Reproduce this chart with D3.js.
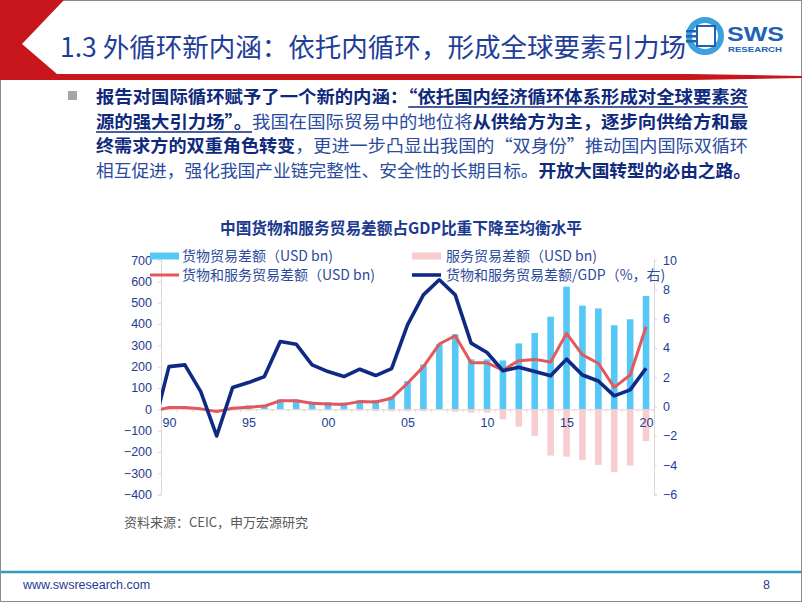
<!DOCTYPE html>
<html>
<head>
<meta charset="utf-8">
<script src="https://cdn.jsdelivr.net/npm/d3@7"></script>
<style>
html,body{margin:0;padding:0;background:#fff;}
svg{display:block;}
text{font-family:"Liberation Sans","Noto Sans CJK SC",Arial,sans-serif;}
.cjk{font-family:"Noto Sans CJK SC","Liberation Sans",sans-serif;}
</style>
</head>
<body>
<svg id="chart" width="802" height="602"></svg>
<script>
// ---------------- data ----------------
const barYears = d3.range(1990, 2021);
const lineYears = d3.range(1989, 2021); // 1989 exists in source, clipped by plot edge
const goodsBalance = [9, 9, 5, -11, 7, 18, 20, 46, 46, 36, 34, 32, 44, 44, 59, 132, 210, 305, 352, 234, 234, 229, 309, 358, 434, 575, 486, 473, 394, 422, 531];
const servicesBalance = [1.5, 2.9, -0.2, -1.1, 0.3, -6.1, -2.0, -3.4, -2.8, -5.3, -5.6, -5.9, -6.8, -8.6, -9.7, -9.4, -8.8, -3.1, -11.5, -16, -16, -47, -81, -125, -217, -222, -238, -261, -295, -264, -149];
const totalBalance = [-7, 8, 8, 2, -11, 5, 10, 15, 40, 40, 28, 25, 23, 36, 34, 52, 122, 200, 306, 345, 218, 218, 184, 228, 234, 222, 356, 255, 216, 103, 161, 387];
const balanceToGDP = [-1.55, 2.73, 2.85, 1.02, -2.0, 1.30, 1.64, 2.05, 4.44, 4.26, 2.85, 2.39, 2.05, 2.55, 2.12, 2.59, 5.58, 7.62, 8.65, 7.62, 4.33, 3.69, 2.45, 2.69, 2.39, 2.10, 3.24, 2.16, 1.75, 0.73, 1.14, 2.62];
const leftTicks = [-400, -300, -200, -100, 0, 100, 200, 300, 400, 500, 600, 700];
const rightTicks = [-6, -4, -2, 0, 2, 4, 6, 8, 10];
const xTickYears = [1990, 1995, 2000, 2005, 2010, 2015, 2020];
const xTickLabels = ["90", "95", "00", "05", "10", "15", "20"];
const seriesNames = ["货物贸易差额（USD bn)", "服务贸易差额（USD bn)", "货物和服务贸易差额（USD bn)", "货物和服务贸易差额/GDP（%，右)"];
const chartTitle = "中国货物和服务贸易差额占GDP比重下降至均衡水平";
const slideTitle = "1.3 外循环新内涵：依托内循环，形成全球要素引力场";
const sourceText = "资料来源：CEIC，申万宏源研究";
const bodyLines = [
  [["报告对国际循环赋予了一个新的内涵：", "b"], ["“依托国内经济循环体系形成对全球要素资", "bu"]],
  [["源的强大引力场”。", "bu"], ["我国在国际贸易中的地位将", "r"], ["从供给方为主，逐步向供给方和最", "b"]],
  [["终需求方的双重角色转变", "b"], ["，更进一步凸显出我国的“双身份”推动国内国际双循环", "r"]],
  [["相互促进，强化我国产业链完整性、安全性的长期目标。", "r"], ["开放大国转型的必由之路。", "b"]]
];

// ---------------- setup ----------------
const svg = d3.select("#chart");
const navy = "#0E2A84", red = "#E4585B", cyan = "#56C8F5", pink = "#F8CDD0";
const textNavy = "#1F3C93";

// slide frame
svg.append("rect").attr("x", 0.5).attr("y", 0.5).attr("width", 801).attr("height", 601)
  .attr("fill", "none").attr("stroke", "#8c8c8c").attr("stroke-width", 1);

// header red shapes
svg.append("path").attr("d", "M0,0 L64,0 L22,44 L64,80 L0,80 Z").attr("fill", "#C8161D");
svg.append("path").attr("d", "M0,74 L690,74 L690,80 L0,80 Z").attr("fill", "#C8161D");
svg.append("path").attr("d", "M690,74 L802,76 L802,78 L690,80 Z").attr("fill", "#C8161D");

svg.append("text").attr("class", "cjk").attr("x", 60).attr("y", 57)
  .attr("font-size", 26.5).attr("fill", "#1E3E9A").attr("textLength", 626).attr("lengthAdjust", "spacingAndGlyphs")
  .text(slideTitle);

// logo
const logo = svg.append("g");
logo.append("circle").attr("cx", 705).attr("cy", 36).attr("r", 16).attr("fill", "none").attr("stroke", "#3DA1DE").attr("stroke-width", 6);
logo.append("rect").attr("x", 697).attr("y", 26).attr("width", 18).attr("height", 20).attr("fill", "#fff").attr("stroke", "#1F63B5").attr("stroke-width", 2);
[30, 35, 40].forEach(yy => logo.append("rect").attr("x", 686).attr("y", yy).attr("width", 12).attr("height", 2.5).attr("fill", "#1F63B5"));
logo.append("text").attr("x", 727).attr("y", 41).attr("font-size", 21).attr("font-weight", "bold").attr("fill", "#1D63B6").attr("textLength", 57).attr("lengthAdjust", "spacingAndGlyphs").text("SWS");
logo.append("text").attr("x", 728).attr("y", 52).attr("font-size", 7).attr("font-weight", "bold").attr("fill", "#1D63B6").attr("textLength", 54).attr("lengthAdjust", "spacingAndGlyphs").text("RESEARCH");

// bullet paragraph
svg.append("rect").attr("x", 68).attr("y", 91).attr("width", 9).attr("height", 9).attr("fill", "#A6A6A6");
const lineY = [103, 128, 152, 177];
const lineEnd = [748, 748, 748, 751];
bodyLines.forEach((segs, i) => {
  const t = svg.append("text").attr("class", "cjk").attr("x", 96).attr("y", lineY[i])
    .attr("font-size", 17.4).attr("textLength", lineEnd[i] - 96).attr("lengthAdjust", "spacingAndGlyphs");
  segs.forEach(([s, st]) => {
    t.append("tspan").attr("font-weight", st === "r" ? "normal" : "bold")
      .attr("fill", st === "r" ? "#2B4C9E" : "#0F2A7C")
      .attr("data-u", st === "bu" ? "1" : null).text(s);
  });
  t.selectAll("tspan[data-u='1']").each(function() {
    const n = this.getNumberOfChars();
    const x0 = this.getStartPositionOfChar(0).x;
    const x1 = this.getEndPositionOfChar(n - 1).x;
    svg.append("line").attr("x1", x0).attr("x2", x1).attr("y1", lineY[i] + 4).attr("y2", lineY[i] + 4)
      .attr("stroke", "#0F2A7C").attr("stroke-width", 1.3);
  });
});

// ---------------- chart ----------------
const plot = {left: 161, right: 654, top: 260, bottom: 494.6};
const x = d3.scaleLinear().domain([1989.5, 2020.5]).range([plot.left, plot.right]);
const yL = d3.scaleLinear().domain([-400, 700]).range([plot.bottom, plot.top]);
const yR = d3.scaleLinear().domain([-6, 10]).range([plot.bottom, plot.top]);
const bw = 6.6;

svg.append("text").attr("class", "cjk").attr("x", 401).attr("y", 234).attr("text-anchor", "middle")
  .attr("font-size", 16).attr("font-weight", "bold").attr("fill", "#1B3A8F")
  .attr("textLength", 362).attr("lengthAdjust", "spacingAndGlyphs").text(chartTitle);

// axes
const axL = svg.append("g").attr("transform", `translate(${plot.left},0)`)
  .call(d3.axisLeft(yL).tickValues(leftTicks).tickSize(3).tickPadding(6));
const axR = svg.append("g").attr("transform", `translate(${plot.right},0)`)
  .call(d3.axisRight(yR).tickValues(rightTicks).tickSize(3).tickPadding(6));
[axL, axR].forEach(a => {
  a.select(".domain").attr("stroke", "#D9D9D9");
  a.selectAll(".tick line").attr("stroke", "#D9D9D9");
  a.selectAll(".tick text").attr("fill", textNavy).attr("font-size", 12.5)
    .attr("font-family", "Liberation Sans, Arial, sans-serif");
});

// bars
svg.append("g").selectAll("rect.g").data(barYears).join("rect")
  .attr("x", d => x(d) - bw / 2).attr("width", bw)
  .attr("y", (d, i) => yL(Math.max(0, goodsBalance[i])))
  .attr("height", (d, i) => Math.abs(yL(goodsBalance[i]) - yL(0)))
  .attr("fill", cyan);
svg.append("g").selectAll("rect.s").data(barYears).join("rect")
  .attr("x", d => x(d) - bw / 2).attr("width", bw)
  .attr("y", (d, i) => yL(Math.max(0, servicesBalance[i])))
  .attr("height", (d, i) => Math.abs(yL(servicesBalance[i]) - yL(0)))
  .attr("fill", pink);

// category axis on zero line
const axX = svg.append("g").attr("transform", `translate(0,${yL(0)})`)
  .call(d3.axisBottom(x).tickValues(xTickYears).tickFormat((d, i) => xTickLabels[i]).tickSize(0).tickPadding(9));
axX.select(".domain").attr("stroke", "#E3D3D3").attr("stroke-width", 1);
axX.selectAll(".tick text").attr("fill", textNavy).attr("font-size", 12.5)
  .attr("font-family", "Liberation Sans, Arial, sans-serif");
svg.append("g").selectAll("line").data(d3.range(1990, 2021)).join("line")
  .attr("x1", d => x(d + 0.5)).attr("x2", d => x(d + 0.5))
  .attr("y1", yL(0)).attr("y2", yL(0) + 3).attr("stroke", "#E3D3D3");

// lines (clipped to plot)
svg.append("clipPath").attr("id", "clip").append("rect")
  .attr("x", plot.left).attr("y", 0).attr("width", plot.right - plot.left).attr("height", 602);
const lg = svg.append("g").attr("clip-path", "url(#clip)");
lg.append("path").datum(lineYears)
  .attr("d", d3.line().x(d => x(d)).y((d, i) => yL(totalBalance[i])))
  .attr("fill", "none").attr("stroke", red).attr("stroke-width", 3).attr("stroke-linejoin", "round");
lg.append("path").datum(lineYears)
  .attr("d", d3.line().x(d => x(d)).y((d, i) => yR(balanceToGDP[i])))
  .attr("fill", "none").attr("stroke", navy).attr("stroke-width", 3.6).attr("stroke-linejoin", "round");

// legend
const leg = [
  {x: 150, y: 256, type: "bar", color: cyan, tx: 182},
  {x: 412, y: 256, type: "bar", color: pink, tx: 446},
  {x: 150, y: 275, type: "line", color: red, tx: 182},
  {x: 412, y: 275, type: "line", color: navy, tx: 446}
];
leg.forEach((l, i) => {
  if (l.type === "bar") svg.append("rect").attr("x", l.x).attr("y", l.y - 3.5).attr("width", 29).attr("height", 7).attr("fill", l.color);
  else svg.append("line").attr("x1", l.x).attr("x2", l.x + 29).attr("y1", l.y).attr("y2", l.y).attr("stroke", l.color).attr("stroke-width", i === 3 ? 3.6 : 3);
  svg.append("text").attr("class", "cjk").attr("x", l.tx).attr("y", l.y + 5).attr("font-size", 14)
    .attr("fill", "#2C4A9C").text(seriesNames[i]);
});

// source
svg.append("text").attr("class", "cjk").attr("x", 124).attr("y", 527).attr("font-size", 13)
  .attr("fill", "#595959").text(sourceText);

// footer
svg.append("line").attr("x1", 1).attr("x2", 801).attr("y1", 572).attr("y2", 572).attr("stroke", "#2F9DBE").attr("stroke-width", 2.5);
svg.append("text").attr("x", 23).attr("y", 589).attr("font-size", 12.5).attr("fill", "#1F3C93").text("www.swsresearch.com");
svg.append("text").attr("x", 763).attr("y", 589).attr("font-size", 12.5).attr("fill", "#1F3C93").text("8");
</script>
</body>
</html>
